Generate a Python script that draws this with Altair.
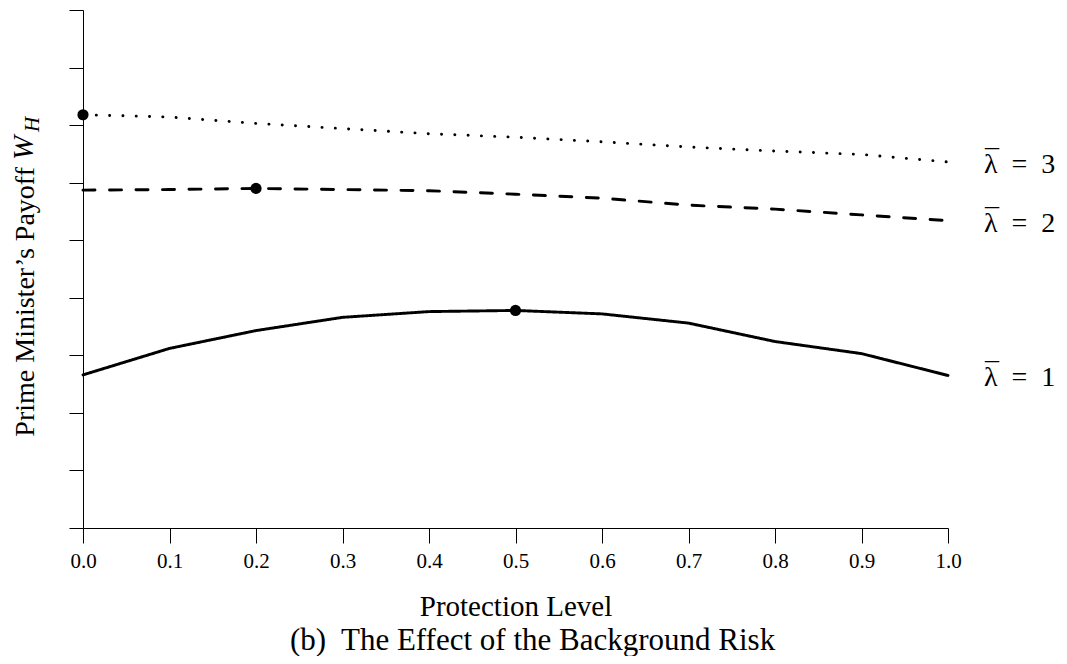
import altair as alt
import pandas as pd

# ---- data ----
protection = [0.0, 0.1, 0.2, 0.3, 0.4, 0.5, 0.6, 0.7, 0.8, 0.9, 1.0]
payoff_l1 = [2.66, 3.12, 3.43, 3.66, 3.76, 3.78, 3.72, 3.56, 3.24, 3.03, 2.65]
payoff_l2 = [5.87, 5.88, 5.90, 5.88, 5.86, 5.80, 5.73, 5.61, 5.54, 5.44, 5.34]
payoff_l3 = [7.18, 7.14, 7.03, 6.94, 6.85, 6.79, 6.71, 6.62, 6.55, 6.49, 6.36]
series_labels = ["λ\u2002=\u20021", "λ\u2002=\u20022", "λ\u2002=\u20023"]
optimum_x = [0.5, 0.2, 0.0]
optimum_y = [3.78, 5.90, 7.18]
x_ticks = [0.0, 0.1, 0.2, 0.3, 0.4, 0.5, 0.6, 0.7, 0.8, 0.9, 1.0]
y_ticks = [0, 1, 2, 3, 4, 5, 6, 7, 8, 9]

rows = []
for lab, ys in zip(series_labels, [payoff_l1, payoff_l2, payoff_l3]):
    for xv, yv in zip(protection, ys):
        rows.append({"series": lab, "x": xv, "y": yv})
df = pd.DataFrame(rows)
opt = pd.DataFrame({"series": series_labels, "x": optimum_x, "y": optimum_y})
ends = df[df["x"] == 1.0]

FONT = "Liberation Serif"

x_enc = alt.X("x:Q", scale=alt.Scale(domain=[0, 1], nice=False, zero=False),
              axis=alt.Axis(values=x_ticks, format=".1f", title="Protection Level",
                            tickSize=15, labelPadding=7, titlePadding=21,
                            labelFlush=False, labelOverlap=False,
                            titleFontSize=29, labelFontSize=21))
y_enc = alt.Y("y:Q", scale=alt.Scale(domain=[0, 9], nice=False),
              axis=alt.Axis(values=y_ticks, labels=False, title=None, tickSize=14))

lines = alt.Chart(df).mark_line(color="black", strokeWidth=2.9, strokeCap="round").encode(
    x=x_enc, y=y_enc,
    strokeDash=alt.StrokeDash("series:N",
                              scale=alt.Scale(domain=series_labels,
                                              range=[[1, 0], [12, 14.5], [0.1, 13.2]]),
                              legend=None),
    detail="series:N",
)

points = alt.Chart(opt).mark_circle(color="black", size=125, opacity=1).encode(
    x="x:Q", y="y:Q")

labels = alt.Chart(ends).mark_text(align="left", baseline="middle", dx=36, dy=3,
                                   font=FONT, fontSize=28, color="black").encode(
    x="x:Q", y="y:Q", text="series:N")
bars = alt.Chart(ends).mark_text(text="¯", align="left", baseline="middle", dx=37, dy=-1,
                                 font=FONT, fontSize=28, color="black").encode(
    x="x:Q", y="y:Q")

one = alt.Data(values=[{"a": 1}])
ytitle_main = alt.Chart(one).mark_text(text="Prime Minister’s Payoff", angle=270,
                                       align="right", baseline="middle",
                                       font=FONT, fontSize=28, color="black").encode(
    x=alt.value(-57), y=alt.value(157))
ytitle_w = alt.Chart(one).mark_text(text="W", angle=270, align="left", baseline="middle",
                                    font=FONT, fontSize=29, fontStyle="italic",
                                    color="black").encode(
    x=alt.value(-59), y=alt.value(150))
ytitle_h = alt.Chart(one).mark_text(text="H", angle=270, align="left", baseline="middle",
                                    font=FONT, fontSize=21, fontStyle="italic",
                                    color="black").encode(
    x=alt.value(-50), y=alt.value(122))

chart = alt.layer(lines, points, labels, bars, ytitle_main, ytitle_w, ytitle_h).properties(
    width=865, height=518,
    autosize="none",
    padding={"left": 75, "top": 2, "right": 111, "bottom": 128},
    title=alt.TitleParams(text="(b)\u00a0 The Effect of the Background Risk", orient="bottom",
                          anchor="middle", font=FONT, fontSize=31, fontWeight="normal",
                          color="black", offset=5, dx=17),
).configure_view(stroke=None).configure_axis(
    grid=False, domainColor="black", tickColor="black", domainWidth=1, tickWidth=1,
    labelFont=FONT, labelColor="black", titleFont=FONT, titleColor="black",
    titleFontWeight="normal",
)

chart.save("out.html", embed_options={"renderer": "svg", "actions": False})
